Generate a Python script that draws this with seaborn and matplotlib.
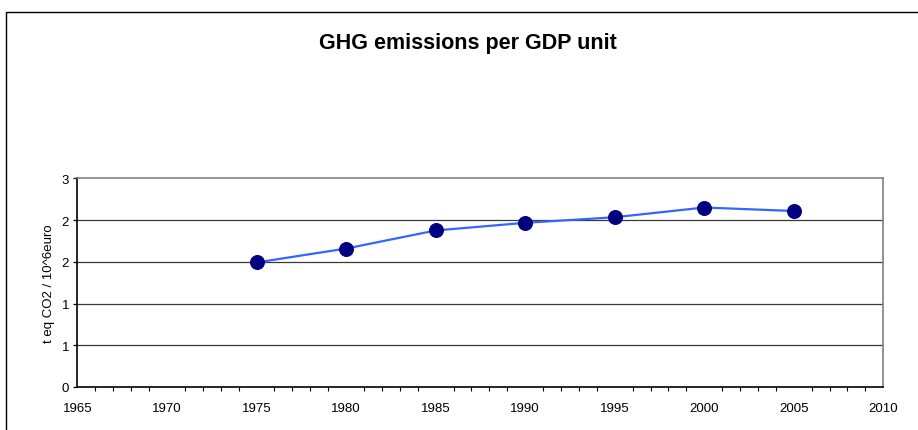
import matplotlib
matplotlib.use("Agg")
import matplotlib.pyplot as plt
import matplotlib.ticker as mticker
from matplotlib.patches import Rectangle
import pandas as pd
import seaborn as sns

years = [1975, 1980, 1985, 1990, 1995, 2000, 2005]
emissions = [1.79, 1.99, 2.25, 2.36, 2.44, 2.58, 2.53]
x_ticks = [1965, 1970, 1975, 1980, 1985, 1990, 1995, 2000, 2005, 2010]
y_ticks = [0, 0.6, 1.2, 1.8, 2.4, 3.0]

df = pd.DataFrame({"year": years, "value": emissions})

sns.set_style("white")
plt.rcParams["font.family"] = ["Liberation Sans", "DejaVu Sans"]
plt.rcParams["text.color"] = "black"
plt.rcParams["axes.labelcolor"] = "black"
plt.rcParams["xtick.color"] = "black"
plt.rcParams["ytick.color"] = "black"

fig = plt.figure(figsize=(9.18, 4.31), dpi=100)
ax = fig.add_axes([0.0844, 0.0998, 0.8778, 0.4842])

# outer chart frame (cut by the image edge on the right and bottom)
fig.patches.append(Rectangle((0.007, -0.05), 1.2, (431 - 13) / 431 + 0.05,
                             transform=fig.transFigure, fill=False,
                             edgecolor="black", linewidth=1.0, clip_on=False))

for y in y_ticks[1:-1]:
    ax.axhline(y, color="#3a3a3a", linewidth=0.9, zorder=1)

sns.lineplot(data=df, x="year", y="value", ax=ax, color="#3366ff",
             linewidth=1.6, marker="o", markersize=10,
             markerfacecolor="#000080", markeredgecolor="#000080", zorder=3)

ax.set_xlim(1965, 2010)
ax.set_ylim(0, 3)
ax.set_xticks(x_ticks)
ax.xaxis.set_minor_locator(mticker.MultipleLocator(1))
ax.set_yticks(y_ticks)
ax.yaxis.set_major_formatter(mticker.FuncFormatter(lambda v, p: f"{v:.0f}"))

ax.tick_params(axis="x", which="major", direction="out", length=4, width=0.9,
               labelsize=9.5, pad=7)
ax.tick_params(axis="x", which="minor", direction="out", length=3, width=0.8,
               bottom=True)
ax.tick_params(axis="y", direction="out", length=3, width=0.9,
               labelsize=9.5, pad=3, left=True)

ax.spines["left"].set_color("black")
ax.spines["bottom"].set_color("black")
ax.spines["top"].set_color("#808080")
ax.spines["right"].set_color("#808080")
for s in ax.spines.values():
    s.set_linewidth(1.2)

ax.set_xlabel("")
ax.set_ylabel("t eq CO2 / 10^6euro", fontsize=9.5, labelpad=5)

fig.text(0.51, 0.90, "GHG emissions per GDP unit", ha="center", va="center",
         fontsize=15.5, fontweight="bold")

fig.savefig("out.png", dpi=100)
